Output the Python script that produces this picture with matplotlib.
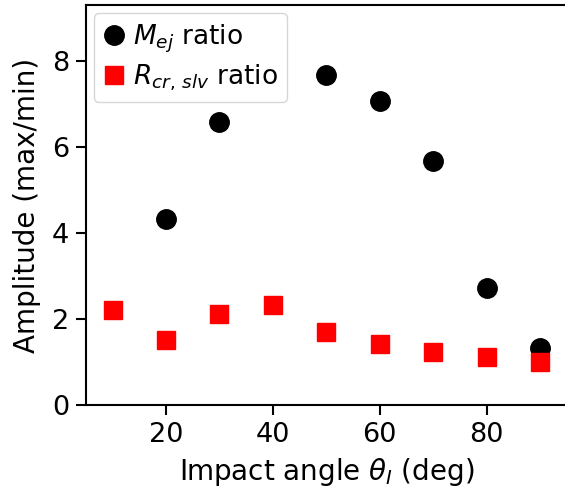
import matplotlib
matplotlib.use("Agg")
from matplotlib import pyplot as plt

# amplitude ratios (max/min) per impact angle
angle_mej = [20, 30, 50, 60, 70, 80, 90]
ratio_mej = [4.33, 6.58, 7.67, 7.08, 5.67, 2.72, 1.33]

angle_rcr = [10, 20, 30, 40, 50, 60, 70, 80, 90]
ratio_rcr = [2.21, 1.51, 2.12, 2.33, 1.70, 1.42, 1.23, 1.12, 1.00]

fig = plt.figure(figsize=(5.65, 4.93), dpi=100)
ax = fig.add_axes([0.152, 0.1785, 0.851, 0.811])

ax.plot(angle_mej, ratio_mej, 'o', color='black', ms=14, label=r'$M_{ej}$ ratio')
ax.plot(angle_rcr, ratio_rcr, 's', color='red', ms=13, label=r'$R_{cr,\,slv}$ ratio')

ax.set_xlim(5, 95)
ax.set_ylim(0, 9.3)
ax.set_xticks([20, 40, 60, 80])
ax.set_yticks([0, 2, 4, 6, 8])
ax.tick_params(labelsize=19.5, width=1.5, length=7, pad=5)
for s in ax.spines.values():
    s.set_linewidth(1.5)

ax.set_xlabel(r'Impact angle $\theta_I$ (deg)', fontsize=20, labelpad=6)
ax.set_ylabel('Amplitude (max/min)', fontsize=20, labelpad=8)
ax.legend(loc='upper left', fontsize=19, handletextpad=0.35, borderpad=0.35,
          labelspacing=0.3, borderaxespad=0.3, handlelength=0.8)

fig.savefig('out.png', dpi=100)
